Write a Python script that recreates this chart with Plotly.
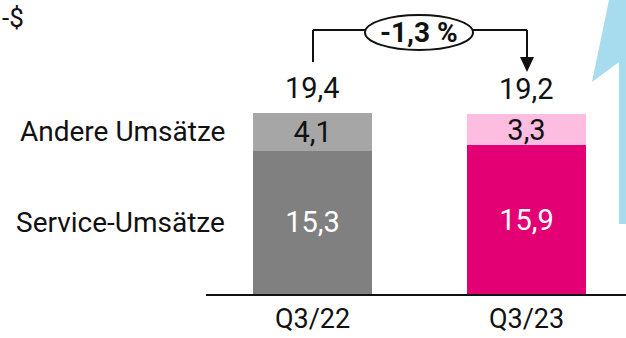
import plotly.graph_objects as go

# Umsätze in Mrd. US-$
quarters = ["Q3/22", "Q3/23"]
service = [15.3, 15.9]
andere = [4.1, 3.3]
totals = [19.4, 19.2]
change_label = "-1,3 %"
series_names = ["Service-Umsätze", "Andere Umsätze"]

W, H = 626, 338
FONT = "Roboto"
INK = "#111111"


def de(v):
    return f"{v:.1f}".replace(".", ",")


def px(x, y):
    # pixel -> paper coordinates (margins are zero, so paper = whole figure)
    return x / W, 1 - y / H


fig = go.Figure()
fig.add_bar(x=quarters, y=service, marker_color=["#808080", "#e20074"],
            marker_line_width=0,
            text=[de(v) for v in service], textposition="inside",
            insidetextanchor="middle", textangle=0, constraintext="none",
            textfont=dict(color="white", size=29, family=FONT),
            width=0.556, name=series_names[0])
fig.add_bar(x=quarters, y=andere, marker_color=["#a6a6a6", "#fdbde0"],
            marker_line_width=0,
            text=[de(v) for v in andere], textposition="inside",
            insidetextanchor="middle", textangle=0, constraintext="none",
            textfont=dict(color=INK, size=29, family=FONT),
            width=0.556, name=series_names[1])

for q, t in zip(quarters, totals):
    fig.add_annotation(x=q, y=t, text=de(t), showarrow=False, yanchor="bottom",
                       yshift=6, font=dict(size=29, color=INK, family=FONT))

# series labels on the left
for name, yv in [(series_names[1], andere[0] / 2 + service[0]), (series_names[0], service[0] / 2)]:
    fig.add_annotation(x=227 / W, xref="paper", y=yv, yref="y", text=name,
                       showarrow=False, xanchor="right", yanchor="middle",
                       font=dict(size=28, color=INK, family=FONT))

# unit (cut off at the left edge in the original)
fig.add_annotation(x=0, xref="paper", y=1, yref="paper", text="-$", showarrow=False,
                   xanchor="left", yanchor="top", yshift=-1,
                   font=dict(size=26, color=INK, family=FONT))

# light blue arrow on the right edge
pts = [(610, -5), (592, 82), (619, 62), (619, 224), (640, 224), (640, -5)]
path = "M " + " L ".join(f"{px(x, y)[0]},{px(x, y)[1]}" for x, y in pts) + " Z"
fig.add_shape(type="path", path=path, xref="paper", yref="paper",
              fillcolor="#a6dced", line_width=0, layer="below")

# change connector
lx, rx, ly = 313, 527, 30
for (x0, y0), (x1, y1) in [((lx, 62), (lx, ly)), ((lx, ly), (366, ly)),
                           ((472, ly), (rx, ly)), ((rx, ly), (rx, 58))]:
    a0, b0 = px(x0, y0)
    a1, b1 = px(x1, y1)
    fig.add_shape(type="line", x0=a0, y0=b0, x1=a1, y1=b1, xref="paper", yref="paper",
                  line=dict(color=INK, width=2))
tri = [(520, 57), (534, 57), (527, 72)]
path = "M " + " L ".join(f"{px(x, y)[0]},{px(x, y)[1]}" for x, y in tri) + " Z"
fig.add_shape(type="path", path=path, xref="paper", yref="paper",
              fillcolor=INK, line_width=0)
e0 = px(365, 15)
e1 = px(473, 50)
fig.add_shape(type="circle", x0=e0[0], y0=e1[1], x1=e1[0], y1=e0[1],
              xref="paper", yref="paper", line=dict(color=INK, width=2),
              fillcolor="white")
c = px(419, 33)
fig.add_annotation(x=c[0], y=c[1], xref="paper", yref="paper", text="<b>" + change_label + "</b>",
                   showarrow=False, xanchor="center", yanchor="middle",
                   font=dict(size=28, color=INK, family=FONT))

fig.update_layout(
    width=W, height=H, barmode="stack", showlegend=False,
    margin=dict(l=0, r=0, t=0, b=0),
    plot_bgcolor="white", paper_bgcolor="white",
    xaxis=dict(domain=[206 / W, 1], range=[-0.498, 1.465], showgrid=False,
               showline=True, linecolor=INK, linewidth=2, ticks="",
               tickfont=dict(size=27, color=INK, family=FONT)),
    yaxis=dict(domain=[44 / H, 1], range=[0, 31.44], visible=False),
)

fig.write_html("out.html", config={"displayModeBar": False},
               post_script="document.body.style.margin='0';")
